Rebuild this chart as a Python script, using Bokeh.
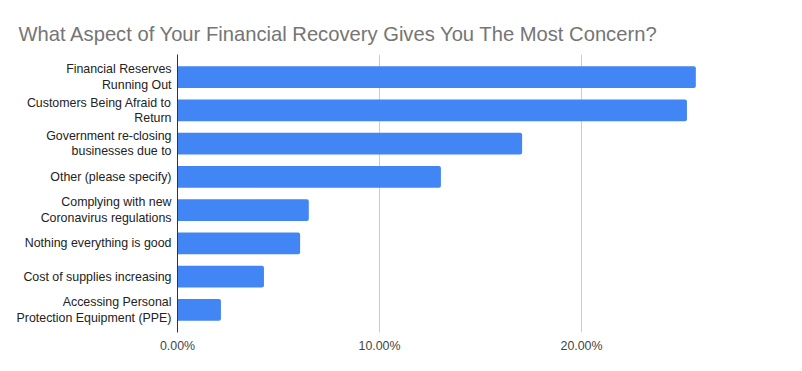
from bokeh.plotting import figure
from bokeh.models import FactorRange, Range1d, FixedTicker, NumeralTickFormatter, ColumnDataSource
from bokeh.embed import file_html
from bokeh.resources import INLINE

categories = [
    "Financial Reserves\nRunning Out",
    "Customers Being Afraid to\nReturn",
    "Government re-closing\nbusinesses due to",
    "Other (please specify)",
    "Complying with new\nCoronavirus regulations",
    "Nothing everything is good",
    "Cost of supplies increasing",
    "Accessing Personal\nProtection Equipment (PPE)",
]
values = [0.2566, 0.2522, 0.1706, 0.1304, 0.0650, 0.0607, 0.0428, 0.0215]
x_ticks = [0.0, 0.1, 0.2]
grid_ticks = [0.1, 0.2, 0.3]

source = ColumnDataSource(dict(cat=categories, val=values))

p = figure(
    width=794, height=363,
    y_range=FactorRange(factors=list(reversed(categories)), range_padding=0.045),
    x_range=Range1d(0, 0.30),
    output_backend="svg", toolbar_location=None,
    min_border_left=177, min_border_right=11, min_border_bottom=31, min_border_top=54,
)
p.hbar(y="cat", right="val", left=0, height=0.66, source=source,
       fill_color="#4285F4", line_color=None, border_radius=(0, 2, 2, 0))

p.title.text = "What Aspect of Your Financial Recovery Gives You The Most Concern?"
p.title.text_font = "Liberation Sans"
p.title.text_font_size = "20.2px"
p.title.text_font_style = "normal"
p.title.text_color = "#757575"
p.title.offset = -159
p.title.standoff = 19

p.outline_line_color = None
p.ygrid.grid_line_color = None
p.xgrid.ticker = FixedTicker(ticks=grid_ticks)
p.xgrid.grid_line_color = "#cccccc"
p.xgrid.grid_line_width = 1

xa = p.xaxis[0]
xa.ticker = FixedTicker(ticks=x_ticks)
xa.formatter = NumeralTickFormatter(format="0.00%")
xa.axis_line_color = None
xa.major_tick_line_color = None
xa.minor_tick_line_color = None
xa.major_label_text_font = "Liberation Sans"
xa.major_label_text_font_size = "12.4px"
xa.major_label_text_color = "#444444"
xa.major_label_standoff = 0

ya = p.yaxis[0]
ya.axis_line_color = "#333333"
ya.major_tick_line_color = None
ya.minor_tick_line_color = None
ya.major_label_text_font = "Liberation Sans"
ya.major_label_text_font_size = "12.4px"
ya.major_label_text_color = "#222222"
ya.major_label_text_line_height = 1.1
ya.major_label_standoff = 0

open("out.html", "w").write(file_html(p, INLINE))
